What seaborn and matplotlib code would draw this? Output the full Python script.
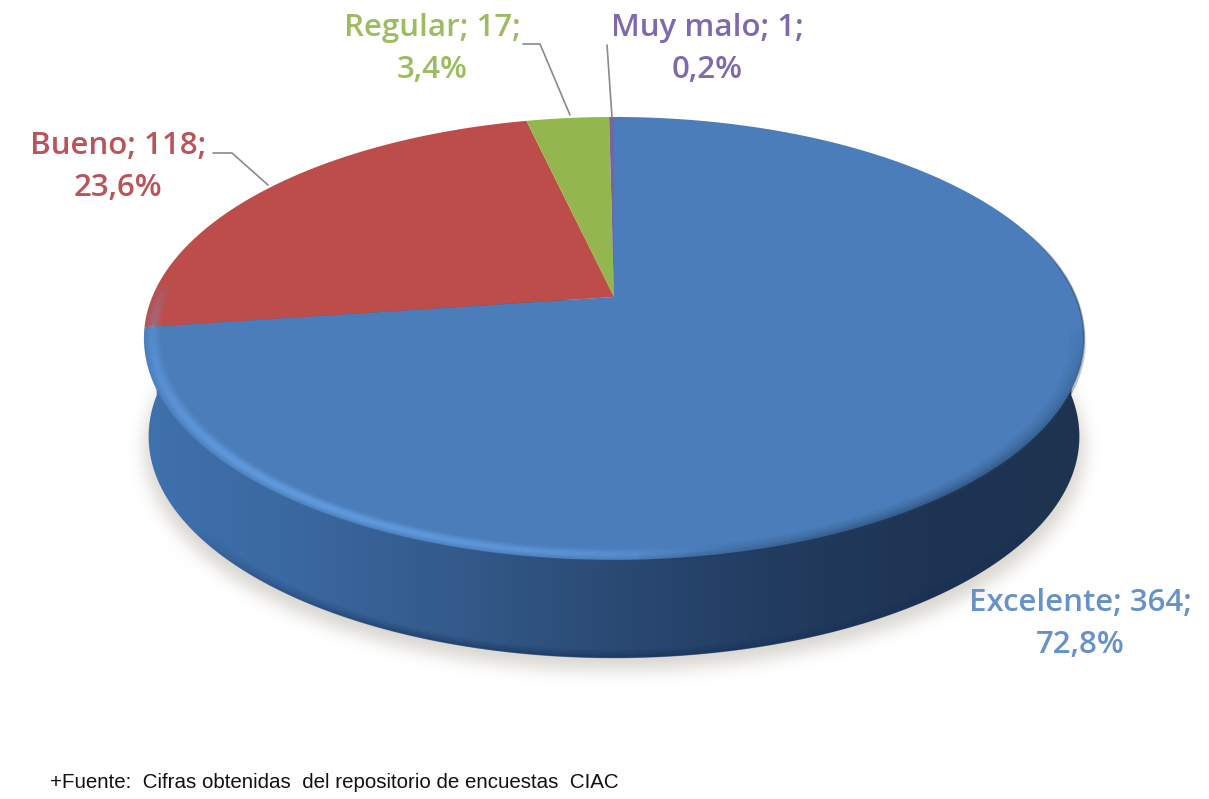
import numpy as np
import seaborn as sns
import matplotlib
matplotlib.use("Agg")
import matplotlib.pyplot as plt
from matplotlib.collections import LineCollection
from matplotlib.colors import LinearSegmentedColormap, to_rgb
from matplotlib.patches import PathPatch
from matplotlib.path import Path
from matplotlib.transforms import Affine2D, Transform

# Data
categories = ["Excelente", "Bueno", "Regular", "Muy malo"]
counts = [364, 118, 17, 1]
percents = ["72,8%", "23,6%", "3,4%", "0,2%"]
footnote = "+Fuente:  Cifras obtenidas  del repositorio de encuestas  CIAC"

# Styles
slice_colors = ["#4a7db9", "#bd4d4a", "#94b64f", "#7d62a0"]
text_colors = ["#6692c8", "#b9555a", "#9dbb61", "#7f69ad"]
label_pos = [(1080, 603), (118, 146), (432, 28), (707, 28)]
leaders = [None,
           [(213, 153), (232, 153), (268, 185)],
           [(523, 44), (540, 44), (570, 115)],
           [(607, 45), (612, 117)]]

# tilted disc: unit circle -> image pixels
CX, CY = 614, 297
E = 0.187
SX, SY = 461.8, 213.7
DEPTH = 98


class Tilt(Transform):
    input_dims = 2
    output_dims = 2
    is_separable = False
    has_inverse = False

    def __init__(self, scale=1.0, dy=0):
        super().__init__()
        self.scale = scale
        self.dy = dy

    def transform_non_affine(self, values):
        xy = np.asarray(values, dtype=float)
        d = 1 + E * xy[:, 1]
        x = CX + self.scale * SX * xy[:, 0] / d
        y = CY + self.dy - SY * xy[:, 1] / d
        return np.column_stack([x, y])

    def transform_path_non_affine(self, path):
        # curves have to be flattened before a projective map
        polys = path.to_polygons(transform=Affine2D().scale(1000), closed_only=True)
        return Path(self.transform_non_affine(polys[0] / 1000), closed=True)


def ring(t_deg, r=1.0, tilt=None):
    t = np.radians(t_deg)
    return (tilt or Tilt()).transform_non_affine(np.column_stack([r * np.cos(t), r * np.sin(t)]))


def blur(a, n):
    k = np.ones(n) / n
    for _ in range(3):
        a = np.apply_along_axis(lambda v: np.convolve(v, k, mode="same"), 0, a)
        a = np.apply_along_axis(lambda v: np.convolve(v, k, mode="same"), 1, a)
    return a


def rim(ax, t_from, t_to, r, color, lw, peak, z, tilt=None):
    t = np.linspace(t_from, t_to, 160)
    pts = ring(t, r, tilt)
    segs = np.stack([pts[:-1], pts[1:]], axis=1)
    alpha = peak * np.sin(np.linspace(0, np.pi, len(segs))) ** 0.7
    rgba = [(*to_rgb(color), a) for a in alpha]
    lc = LineCollection(segs, colors=rgba, linewidths=lw, capstyle="butt", zorder=z)
    lc.set_snap(False)
    ax.add_collection(lc)


sns.set_theme(style="white")
plt.rcParams["font.family"] = ["Open Sans", "DejaVu Sans"]

fig = plt.figure(figsize=(12.09, 7.99), dpi=100, facecolor="white")
ax = fig.add_axes([0, 0, 1, 1])

# soft shadow under the disc
low = Tilt(scale=0.99, dy=DEPTH)
t_all = np.linspace(0, 360, 720)
gx, gy = np.meshgrid(np.arange(1209), np.arange(799))
shadow_path = Path(ring(t_all, 1.0, Tilt(scale=1.0, dy=DEPTH + 12)))
mask = shadow_path.contains_points(np.column_stack([gx.ravel(), gy.ravel()])).reshape(gx.shape)
soft = blur(mask.astype(float), 15)
shadow = np.ones((799, 1209, 4))
shadow[..., :3] = (0.84, 0.83, 0.80)
shadow[..., 3] = soft * 0.9
ax.imshow(shadow, extent=(0, 1209, 799, 0), zorder=1, interpolation="bilinear")

# side wall with horizontal gradient
top_half = ring(np.linspace(0, 180, 200))
low_half = ring(np.linspace(180, 360, 200), 1.0, low)
wall = PathPatch(Path(np.vstack([top_half, low_half, top_half[:1]]), closed=True),
                 fc="none", ec="none", zorder=2)
ax.add_patch(wall)
wall_cmap = LinearSegmentedColormap.from_list(
    "wall", ["#3f71ad", "#3a679f", "#335a8a", "#2a4a74", "#223c60", "#1e3453", "#1d3350"])
grad = ax.imshow(np.linspace(0, 1, 256)[None, :], cmap=wall_cmap, aspect="auto",
                 extent=(146, 1086, 670, 300), zorder=2)
grad.set_clip_path(wall)

# darker lip along the bottom of the wall
for dr, a in zip([0.0, 0.006, 0.012, 0.018], [0.5, 0.32, 0.2, 0.1]):
    rim(ax, 215, 325, 0.997 - dr, "#16305a", 2, a, 2.5, low)

# the slices themselves
wedges, _ = ax.pie(counts, colors=slice_colors, startangle=90, counterclock=False,
                   frame=True, wedgeprops=dict(linewidth=0))
tilt = Tilt()
for w in wedges:
    w.set_transform(tilt + ax.transData)
    w.set_zorder(3)

# bevel: light rim lower left, soft edge lower right, dark line upper right
for dr, a in zip(np.linspace(-0.016, 0.016, 9), [0.09, 0.18, 0.3, 0.42, 0.48, 0.42, 0.3, 0.18, 0.09]):
    rim(ax, 176, 282, 0.982 + dr, "#6ba6ee", 2.2, a, 4)
for dr, a in zip(np.linspace(0, 0.03, 7), [0.5, 0.38, 0.28, 0.2, 0.13, 0.08, 0.04]):
    rim(ax, 272, 352, 1.002 - dr, "#223c60", 2.0, a, 4)
rim(ax, 338, 378, 1.0, "#27405f", 1.4, 0.6, 4)

# labels and leader lines
for name, n, pct, col, pos, lead in zip(categories, counts, percents, text_colors, label_pos, leaders):
    ax.text(pos[0], pos[1], f"{name}; {n};", color=col, fontsize=22.5, fontweight=600,
            ha="center", va="center", zorder=6)
    ax.text(pos[0], pos[1] + 42, pct, color=col, fontsize=22.5, fontweight=600,
            ha="center", va="center", zorder=6)
    if lead:
        ax.plot(*zip(*lead), color="#8a8a8a", lw=1.2, zorder=5)

ax.text(50, 782, footnote, color="#111111", fontsize=14.8, family="Liberation Sans",
        ha="left", va="center", zorder=6)

ax.set_aspect("auto")
ax.set_xlim(0, 1209)
ax.set_ylim(799, 0)
ax.axis("off")

fig.savefig("out.png", dpi=100)
plt.close(fig)
